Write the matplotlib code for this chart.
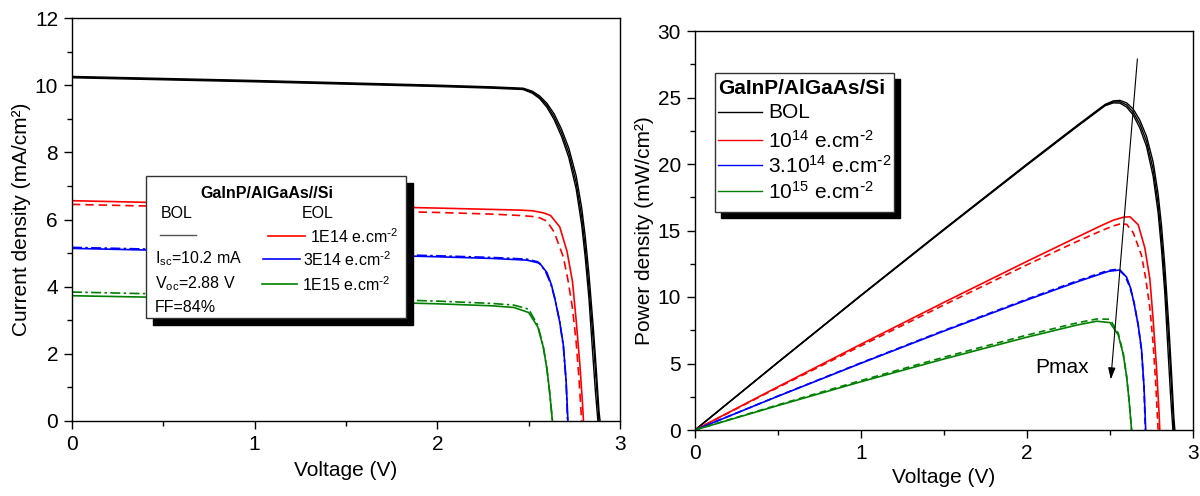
import matplotlib
matplotlib.use("Agg")
import matplotlib.pyplot as plt
import numpy as np
from matplotlib.patches import Rectangle
from matplotlib.lines import Line2D

plt.rcParams['font.family'] = ['Liberation Sans', 'DejaVu Sans']
plt.rcParams['mathtext.default'] = 'regular'

# ---------------- data ----------------
# BOL (three measured cells)
V_bol_1 = [0, 0.5, 1.0, 1.5, 2.0, 2.3, 2.47, 2.52, 2.56, 2.60, 2.64, 2.68, 2.72, 2.76, 2.79, 2.81, 2.83, 2.855, 2.87, 2.885, 2.891]
J_bol_1 = [10.26, 10.20, 10.14, 10.07, 10.00, 9.95, 9.91, 9.82, 9.68, 9.46, 9.14, 8.69, 8.12, 7.30, 6.36, 5.48, 4.38, 2.70, 1.55, 0.30, 0.0]
V_bol_2 = [0, 0.5, 1.0, 1.5, 2.0, 2.3, 2.47, 2.52, 2.56, 2.60, 2.64, 2.68, 2.72, 2.76, 2.79, 2.81, 2.83, 2.855, 2.87, 2.885]
J_bol_2 = [10.24, 10.18, 10.12, 10.05, 9.98, 9.93, 9.89, 9.79, 9.64, 9.40, 9.05, 8.58, 7.98, 7.10, 6.10, 5.15, 4.00, 2.30, 1.15, 0.0]
V_bol_3 = [0, 0.5, 1.0, 1.5, 2.0, 2.3, 2.47, 2.52, 2.56, 2.60, 2.64, 2.68, 2.72, 2.76, 2.79, 2.81, 2.83, 2.85, 2.865, 2.879]
J_bol_3 = [10.22, 10.16, 10.10, 10.03, 9.96, 9.91, 9.87, 9.76, 9.60, 9.34, 8.97, 8.47, 7.84, 6.91, 5.85, 4.85, 3.65, 2.05, 0.90, 0.0]

# 1E14 e/cm2 : EOL measured (solid) and simulated (dashed)
V_1e14 = [0, 0.5, 1.0, 1.5, 2.0, 2.3, 2.45, 2.52, 2.58, 2.62, 2.67, 2.71, 2.74, 2.76, 2.78, 2.795, 2.80]
J_1e14 = [6.56, 6.50, 6.45, 6.40, 6.34, 6.30, 6.28, 6.26, 6.20, 6.12, 5.78, 5.05, 4.15, 3.00, 1.70, 0.50, 0.0]
V_1e14_b = [0, 0.5, 1.0, 1.5, 2.0, 2.3, 2.45, 2.52, 2.56, 2.60, 2.64, 2.69, 2.715, 2.74, 2.76, 2.775, 2.79]
J_1e14_b = [6.45, 6.39, 6.33, 6.27, 6.21, 6.16, 6.12, 6.09, 6.05, 5.95, 5.62, 4.88, 4.20, 3.35, 2.35, 1.30, 0.0]

# 3E14 e/cm2
V_3e14 = [0, 0.5, 1.0, 1.5, 2.0, 2.3, 2.49, 2.56, 2.60, 2.625, 2.645, 2.67, 2.69, 2.705, 2.715]
J_3e14 = [5.14, 5.08, 5.02, 4.96, 4.89, 4.84, 4.79, 4.70, 4.42, 4.05, 3.60, 2.95, 2.25, 1.20, 0.0]
V_3e14_b = [0, 0.5, 1.0, 1.5, 2.0, 2.3, 2.49, 2.55, 2.59, 2.62, 2.645, 2.67, 2.69, 2.705, 2.713]
J_3e14_b = [5.17, 5.11, 5.05, 4.99, 4.92, 4.87, 4.82, 4.74, 4.48, 4.10, 3.62, 2.95, 2.22, 1.15, 0.0]

# 1E15 e/cm2
V_1e15 = [0, 0.5, 1.0, 1.5, 2.0, 2.3, 2.42, 2.50, 2.55, 2.58, 2.60, 2.615, 2.63]
J_1e15 = [3.73, 3.68, 3.63, 3.56, 3.49, 3.43, 3.38, 3.23, 2.80, 2.20, 1.55, 0.85, 0.0]
V_1e15_b = [0, 0.5, 1.0, 1.5, 2.0, 2.3, 2.42, 2.50, 2.55, 2.58, 2.60, 2.615, 2.63]
J_1e15_b = [3.84, 3.78, 3.72, 3.65, 3.57, 3.50, 3.45, 3.33, 2.85, 2.22, 1.55, 0.85, 0.0]

colors = {'bol': 'black', '1e14': '#ff0000', '3e14': '#0000ff', '1e15': '#008000'}

# ---------------- figure ----------------
W, H = 1200, 496
fig = plt.figure(figsize=(W / 100, H / 100), dpi=100)
axL = fig.add_axes([72 / W, 1 - 421 / H, (620 - 72) / W, (421 - 18) / H])
axR = fig.add_axes([695 / W, 1 - 430 / H, (1193 - 695) / W, (430 - 31) / H])

series = [
    (V_bol_1, J_bol_1, colors['bol'], '-', 1.0),
    (V_bol_2, J_bol_2, colors['bol'], '-', 1.0),
    (V_bol_3, J_bol_3, colors['bol'], '-', 1.0),
    (V_1e14, J_1e14, colors['1e14'], '-', 1.2),
    (V_1e14_b, J_1e14_b, colors['1e14'], (0, (5, 3)), 1.2),
    (V_3e14, J_3e14, colors['3e14'], '-', 1.2),
    (V_3e14_b, J_3e14_b, colors['3e14'], (0, (6, 2, 1.5, 2)), 1.2),
    (V_1e15, J_1e15, colors['1e15'], '-', 1.2),
    (V_1e15_b, J_1e15_b, colors['1e15'], (0, (6, 2, 1.5, 2)), 1.2),
]
for V, J, c, ls, lw in series:
    V = np.asarray(V)
    J = np.asarray(J)
    axL.plot(V, J, color=c, ls=ls, lw=lw)
    axR.plot(V, V * J, color=c, ls=ls if ls == '-' else (0, (4, 2.5)), lw=lw)

def style(ax, ymax, ymaj, ymin):
    ax.set_xlim(0, 3)
    ax.set_ylim(0, ymax)
    ax.set_xticks([0, 1, 2, 3])
    ax.set_xticks([0.5, 1.5, 2.5], minor=True)
    ax.set_yticks(np.arange(0, ymax + 0.01, ymaj))
    ax.set_yticks(np.arange(ymin, ymax, ymaj), minor=True)
    ax.tick_params(which='major', direction='out', length=6, width=1, labelsize=15, pad=4)
    ax.tick_params(which='minor', direction='out', length=3.5, width=1)
    for s in ax.spines.values():
        s.set_linewidth(1.0)

style(axL, 12, 2, 1)
style(axR, 30, 5, 2.5)
axL.set_xlabel('Voltage (V)', fontsize=15, labelpad=5)
axL.set_ylabel('Current density (mA/cm²)', fontsize=15, labelpad=3)
axR.set_xlabel('Voltage (V)', fontsize=15, labelpad=4)
axR.set_ylabel('Power density (mW/cm²)', fontsize=15, labelpad=3)

# Pmax arrow
axR.annotate('', xy=(2.505, 3.8), xytext=(2.665, 27.9),
             arrowprops=dict(arrowstyle='-|>,head_length=0.7,head_width=0.22', color='black', lw=0.8, shrinkA=0, shrinkB=0))
axR.text(2.05, 4.7, 'Pmax', fontsize=15, va='center', ha='left')

# ---------------- custom legend boxes (figure pixel coordinates) ----------------
def fx(px):
    return px / W

def fy(py):
    return 1 - py / H

def box(x0, y0, x1, y1, sh):
    fig.add_artist(Rectangle((fx(x0 + sh), fy(y1 + sh)), fx(x1 - x0), (y1 - y0) / H,
                             transform=fig.transFigure, facecolor='black', edgecolor='black', zorder=5))
    fig.add_artist(Rectangle((fx(x0), fy(y1)), fx(x1 - x0), (y1 - y0) / H,
                             transform=fig.transFigure, facecolor='white', edgecolor='#333333', lw=1.0, zorder=5.5))

def seg(x0, x1, y, c, lw=1.2):
    fig.add_artist(Line2D([fx(x0), fx(x1)], [fy(y), fy(y)], transform=fig.transFigure, color=c, lw=lw, zorder=6))

def txt(x, y, s, size, **kw):
    fig.text(fx(x), fy(y), s, fontsize=size, va='center', zorder=7, **kw)

SUPM2 = r'$^{\text{-}2}$'

# left legend
box(146, 176, 406, 318, 7)
ls_ = 11.5
txt(267, 193, 'GaInP/AlGaAs//Si', ls_, ha='center', fontweight='bold')
txt(161, 213, 'BOL', ls_)
txt(302, 213, 'EOL', ls_)
seg(160, 196, 235, '#555555', 1.0)
txt(155, 259, 'I$_{sc}$=10.2 mA', ls_)
txt(155, 284, 'V$_{oc}$=2.88 V', ls_)
txt(155, 307, 'FF=84%', ls_)
seg(268, 305, 236, colors['1e14'])
txt(310, 237, '1E14 e.cm' + SUPM2, ls_)
seg(263, 300, 259, colors['3e14'])
txt(303, 260, '3E14 e.cm' + SUPM2, ls_)
seg(262, 297, 284, colors['1e15'])
txt(302, 285, '1E15 e.cm' + SUPM2, ls_)

# right legend
box(715, 73, 894, 212, 6)
rs = 15
txt(718, 88, 'GaInP/AlGaAs/Si', rs, fontweight='bold')
rows = [(112, 'BOL', colors['bol']),
        (140, '10$^{14}$ e.cm' + SUPM2, colors['1e14']),
        (165, '3.10$^{14}$ e.cm' + SUPM2, colors['3e14']),
        (191, '10$^{15}$ e.cm' + SUPM2, colors['1e15'])]
for y, s, c in rows:
    seg(718, 762, y, c, 1.0)
    txt(768, y + 1, s, rs)

fig.savefig('out.png', dpi=100)
